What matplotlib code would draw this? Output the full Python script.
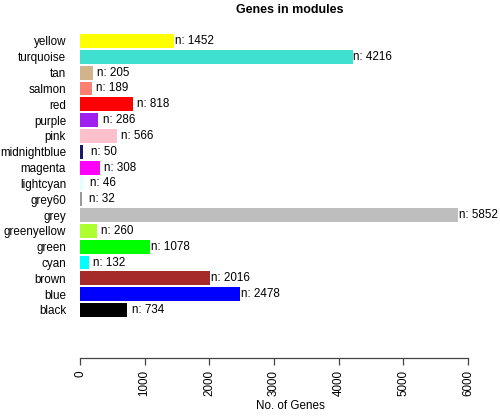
import matplotlib
matplotlib.use("Agg")
import matplotlib.pyplot as plt
import numpy as np

plt.rcParams["font.family"] = ["Liberation Sans", "DejaVu Sans"]

# modules listed bottom -> top
modules = ["black", "blue", "brown", "cyan", "green", "greenyellow", "grey",
           "grey60", "lightcyan", "magenta", "midnightblue", "pink", "purple",
           "red", "salmon", "tan", "turquoise", "yellow"]
counts = [734, 2478, 2016, 132, 1078, 260, 5852, 32, 46, 308, 50, 566, 286,
          818, 189, 205, 4216, 1452]
colors = ["#000000", "#0000FF", "#A52A2A", "#00FFFF", "#00FF00", "#ADFF2F",
          "#BEBEBE", "#999999", "#E0FFFF", "#FF00FF", "#191970", "#FFC0CB",
          "#A020F0", "#FF0000", "#FA8072", "#D2B48C", "#40E0D0", "#FFFF00"]
xticks = [0, 1000, 2000, 3000, 4000, 5000, 6000]

W, H = 500, 416
fig = plt.figure(figsize=(W / 100, H / 100), dpi=100)
ax = fig.add_axes([80 / W, (H - 358) / H, 388 / W, (358 - 23) / H])

ypos = np.arange(len(modules))
ax.barh(ypos, counts, height=0.88, color=colors, edgecolor="none")

for y, c in zip(ypos, counts):
    ax.annotate("n: %d" % c, (c, y), xytext=(14.6, 0), textcoords="offset points",
                ha="center", va="center", fontsize=8.4, annotation_clip=False)

ax.set_xlim(0, 6000)
n = len(modules)
step = (310 - 41) / (n - 1)  # px between bar centres
ax.set_ylim(-(358 - 310) / step, (n - 1) + (41 - 23) / step)

ax.set_yticks(ypos)
ax.set_yticklabels(modules, fontsize=8.4)
ax.tick_params(axis="y", length=0, pad=10)

ax.set_xticks(xticks)
ax.set_xticklabels([str(t) for t in xticks], rotation=90, fontsize=8.4)
ax.tick_params(axis="x", length=5, width=0.9, pad=4, color="#444444")

for s in ["top", "right", "left"]:
    ax.spines[s].set_visible(False)
ax.spines["bottom"].set_bounds(0, 6000)
ax.spines["bottom"].set_color("#444444")
ax.spines["bottom"].set_linewidth(0.9)

fig.text(290 / W, 1 - 10 / H, "Genes in modules", ha="center", va="center",
         fontsize=9, fontweight="bold")
fig.text(290 / W, 1 - 406 / H, "No. of Genes", ha="center", va="center",
         fontsize=8.4)

fig.savefig("out.png", dpi=100)
